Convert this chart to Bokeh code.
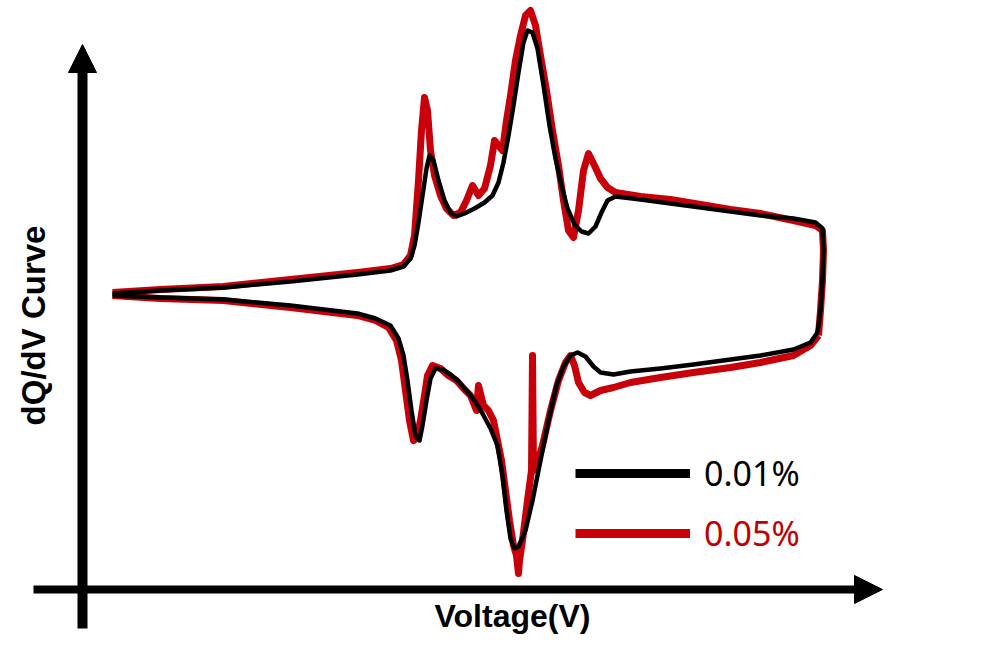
import math

from bokeh.embed import file_html
from bokeh.models import Arrow, Label, Legend, LegendItem, NormalHead, Range1d
from bokeh.plotting import figure
from bokeh.resources import INLINE

# dQ/dV data (voltage in V, dQ/dV in a.u.)
# 0.01% sample, charge branch (low -> high voltage)
v_chg_001 = [
    2.824, 2.920, 3.046, 3.180, 3.314, 3.380, 3.406, 3.420, 3.428, 3.436,
    3.444, 3.452, 3.458, 3.466, 3.476, 3.488, 3.500, 3.512, 3.528, 3.548,
    3.568, 3.584, 3.596, 3.606, 3.616, 3.626, 3.636, 3.646, 3.654, 3.664,
    3.674, 3.686, 3.698, 3.710, 3.722, 3.734, 3.748, 3.762, 3.776, 3.790,
    3.802, 3.814, 3.830, 3.880, 3.940, 4.000, 4.060, 4.120, 4.186, 4.230,
    4.244, 4.246, 4.244, 4.240, 4.234,
]
dqdv_chg_001 = [
    0.10, 0.25, 0.40, 0.70, 1.05, 1.25, 1.45, 1.85, 2.50, 3.65,
    5.00, 6.35, 7.00, 6.75, 5.75, 4.75, 4.15, 3.95, 4.10, 4.35,
    4.65, 5.00, 5.65, 6.65, 8.00, 9.50, 11.15, 12.65, 13.25, 13.15,
    12.35, 10.50, 8.50, 6.85, 5.50, 4.35, 3.55, 3.20, 3.10, 3.45,
    4.15, 4.75, 4.95, 4.80, 4.60, 4.40, 4.20, 4.00, 3.85, 3.65,
    3.35, 2.25, 0.75, -0.75, -1.85,
]

# 0.01% sample, discharge branch (high -> low voltage)
v_dis_001 = [
    4.234, 4.220, 4.186, 4.120, 4.060, 3.986, 3.920, 3.860, 3.826, 3.800,
    3.786, 3.770, 3.754, 3.740, 3.726, 3.712, 3.696, 3.680, 3.664, 3.650,
    3.636, 3.628, 3.620, 3.612, 3.604, 3.594, 3.580, 3.564, 3.548, 3.532,
    3.516, 3.500, 3.484, 3.470, 3.460, 3.452, 3.444, 3.438, 3.430, 3.422,
    3.414, 3.406, 3.396, 3.380, 3.350, 3.314, 3.180, 3.046, 2.920, 2.824,
]
dqdv_dis_001 = [
    -1.85, -2.35, -2.70, -3.00, -3.20, -3.45, -3.65, -3.80, -3.95, -3.85,
    -3.55, -3.05, -2.85, -3.00, -3.55, -4.50, -6.25, -8.25, -10.25, -11.75,
    -12.55, -12.65, -12.15, -10.75, -9.00, -7.50, -6.65, -5.90, -5.25, -4.75,
    -4.30, -3.95, -3.70, -3.65, -4.15, -5.25, -6.50, -7.25, -7.00, -5.75,
    -4.25, -3.00, -2.15, -1.50, -1.15, -0.90, -0.50, -0.20, -0.10, 0.00,
]

# 0.05% sample, charge branch
v_chg_005 = [
    2.824, 2.920, 3.046, 3.180, 3.314, 3.380, 3.406, 3.420, 3.428, 3.436,
    3.442, 3.448, 3.454, 3.460, 3.468, 3.480, 3.492, 3.506, 3.520, 3.532,
    3.544, 3.556, 3.568, 3.580, 3.588, 3.596, 3.604, 3.612, 3.620, 3.630,
    3.640, 3.650, 3.660, 3.670, 3.680, 3.692, 3.704, 3.716, 3.726, 3.736,
    3.746, 3.756, 3.766, 3.776, 3.788, 3.800, 3.814, 3.830, 3.880, 3.940,
    4.000, 4.060, 4.120, 4.186, 4.230, 4.244, 4.246, 4.244, 4.240, 4.236,
]
dqdv_chg_005 = [
    0.15, 0.30, 0.45, 0.80, 1.15, 1.35, 1.55, 2.00, 3.00, 5.75,
    8.25, 9.90, 9.25, 7.25, 6.00, 5.00, 4.35, 4.00, 4.15, 4.75,
    5.50, 5.00, 5.35, 6.50, 7.75, 7.50, 7.25, 8.75, 10.00, 11.75,
    13.00, 14.00, 14.25, 13.50, 12.00, 10.25, 8.25, 6.50, 4.75, 3.25,
    2.90, 4.25, 6.25, 7.10, 6.50, 5.85, 5.40, 5.15, 4.95, 4.80,
    4.55, 4.30, 4.10, 3.75, 3.50, 3.25, 2.25, 0.75, -0.75, -2.00,
]

# 0.05% sample, discharge branch
v_dis_005 = [
    4.236, 4.220, 4.186, 4.120, 4.060, 3.986, 3.920, 3.860, 3.826, 3.800,
    3.780, 3.768, 3.756, 3.748, 3.740, 3.730, 3.716, 3.700, 3.684, 3.672,
    3.666, 3.664, 3.662, 3.654, 3.644, 3.638, 3.636, 3.632, 3.626, 3.618,
    3.610, 3.602, 3.594, 3.586, 3.576, 3.566, 3.556, 3.552, 3.540, 3.526,
    3.512, 3.496, 3.480, 3.464, 3.454, 3.448, 3.440, 3.432, 3.426, 3.418,
    3.410, 3.402, 3.392, 3.376, 3.350, 3.314, 3.180, 3.046, 2.920, 2.824,
]
dqdv_dis_005 = [
    -2.00, -2.50, -3.00, -3.35, -3.60, -3.85, -4.10, -4.35, -4.60, -4.75,
    -5.00, -4.85, -4.35, -3.50, -3.00, -3.35, -4.25, -5.75, -7.50, -8.50,
    -8.75, -3.00, -8.75, -10.25, -12.25, -13.25, -13.90, -13.00, -12.50, -11.25,
    -9.75, -8.25, -7.25, -6.25, -5.75, -5.50, -4.50, -5.75, -5.00, -4.65,
    -4.25, -4.00, -3.65, -3.50, -4.00, -5.00, -6.25, -7.15, -7.25, -6.25,
    -4.75, -3.25, -2.25, -1.60, -1.25, -1.00, -0.60, -0.25, -0.15, 0.00,
]

series_labels = ["0.01%", "0.05%"]
black = "black"
red = "#c8000a"

p = figure(width=984, height=634,
           x_range=Range1d(2.6, 4.568), y_range=Range1d(-16.95, 14.75),
           x_axis_location=None, y_axis_location=None,
           output_backend="svg", toolbar_location=None, min_border=0)
p.grid.visible = False
p.outline_line_color = None

# red (0.05%) under black (0.01%)
for xs, ys in [(v_chg_005, dqdv_chg_005), (v_dis_005, dqdv_dis_005)]:
    p.line(xs, ys, line_color=red, line_width=7, line_join="round")
for xs, ys in [(v_chg_001, dqdv_chg_001), (v_dis_001, dqdv_dis_001)]:
    p.line(xs, ys, line_color=black, line_width=4.5, line_join="round")

# hand-drawn style axes with arrow heads
x_axis_left, x_axis_tip, x_axis_level = 2.666, 4.364, -14.70
y_axis_bottom, y_axis_tip, y_axis_pos = -16.65, 12.55, 2.764
p.add_layout(Arrow(end=NormalHead(size=28, fill_color="black", line_color="black"),
                   x_start=x_axis_left, y_start=x_axis_level,
                   x_end=x_axis_tip, y_end=x_axis_level,
                   line_width=8, line_color="black"))
p.add_layout(Arrow(end=NormalHead(size=28, fill_color="black", line_color="black"),
                   x_start=y_axis_pos, y_start=y_axis_bottom,
                   x_end=y_axis_pos, y_end=y_axis_tip,
                   line_width=10, line_color="black"))

p.add_layout(Label(x=3.624, y=-16.0, text="Voltage(V)", text_align="center",
                   text_baseline="alphabetic", text_font="Liberation Sans",
                   text_font_style="bold", text_font_size="32px",
                   text_color="black"))
p.add_layout(Label(x=2.666, y=-1.5, text="dQ/dV Curve", angle=math.pi / 2,
                   text_align="center", text_baseline="alphabetic",
                   text_font="Liberation Sans", text_font_style="bold",
                   text_font_size="33px", text_color="black"))

# legend: one box per entry so each label can take its own colour
nan = float("nan")
for label, color, loc in [(series_labels[0], black, (575, 136)),
                          (series_labels[1], red, (575, 76))]:
    proxy = p.line(x=[nan], y=[nan], line_color=color, line_width=9)
    leg = Legend(items=[LegendItem(label=label, renderers=[proxy])],
                 location=loc, glyph_width=115, glyph_height=50,
                 label_standoff=14, padding=0, margin=0, spacing=0,
                 border_line_color=None, background_fill_alpha=0,
                 label_text_font="Noto Sans", label_text_font_size="34px",
                 label_text_color="#c00000" if color == red else "black")
    p.add_layout(leg)

open("out.html", "w").write(file_html(p, INLINE))
